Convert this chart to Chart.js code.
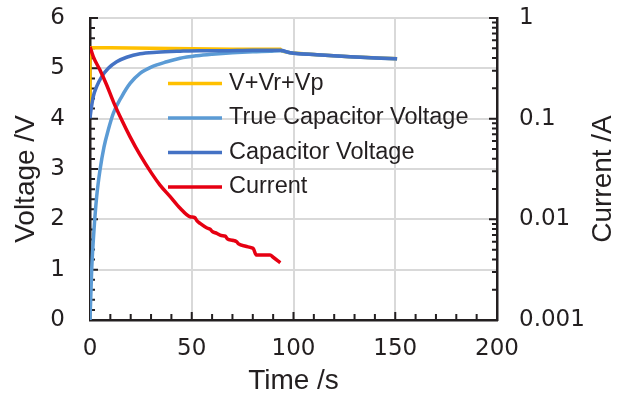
<!DOCTYPE html>
<html><head><meta charset="utf-8">
<script src="https://cdn.jsdelivr.net/npm/chart.js@4.4.1/dist/chart.umd.min.js"></script>
<style>html,body{margin:0;padding:0;background:#fff;}canvas{display:block;}</style>
</head><body>
<canvas id="c" width="632" height="397"></canvas>
<script>
// ---- data ----
const seriesNames = ['V+Vr+Vp', 'True Capacitor Voltage', 'Capacitor Voltage', 'Current'];

const timeSum = [0, 0, 10, 30, 50, 70, 93.5, 94.5, 98.4, 111.5, 127.9, 150.9];
const voltSum = [4.07, 5.41, 5.41, 5.40, 5.39, 5.38, 5.38, 5.34, 5.31, 5.27, 5.23, 5.19];

const timeTrue = [0, 0.82, 1.97, 3.28, 4.92, 6.89, 9.0, 11.5, 15.6, 19.7, 24.6, 30.3, 37.7, 44.3, 52.5, 60, 70, 80, 88.5, 93.5, 98.4, 111.5, 127.9, 150.9];
const voltTrue = [0, 0.99, 1.79, 2.45, 2.98, 3.44, 3.78, 4.11, 4.44, 4.70, 4.90, 5.03, 5.13, 5.20, 5.25, 5.28, 5.31, 5.33, 5.34, 5.35, 5.31, 5.27, 5.23, 5.19];

const timeCap = [0, 0.5, 1.6, 3.3, 5.7, 9, 13.1, 18, 24.6, 32.8, 44.3, 54, 65, 80, 93.5, 98.4, 111.5, 127.9, 150.9];
const voltCap = [4.01, 4.17, 4.44, 4.64, 4.83, 5.00, 5.13, 5.22, 5.29, 5.32, 5.34, 5.35, 5.35, 5.36, 5.36, 5.31, 5.27, 5.23, 5.19];

const timeCur = [0, 1.6, 4.9, 8.2, 11.5, 15.6, 19.7, 24.6, 30.3, 34.4, 39.4, 44.3, 49.2, 51.5, 52.5, 54.1, 57.5, 59, 60, 62.3, 64.5, 66.5, 67.5, 70, 72, 73, 76.5, 79.5, 80.3, 81.7, 88.5, 90, 93.5];
const current  = [0.519, 0.413, 0.304, 0.216, 0.147, 0.097, 0.066, 0.0436, 0.0286, 0.0219, 0.0168, 0.0129, 0.0106, 0.0104, 0.0097, 0.0091, 0.0082, 0.0080, 0.0076, 0.00726, 0.0069, 0.0068, 0.0064, 0.0062, 0.0060, 0.0057, 0.0054, 0.0052, 0.0051, 0.00442, 0.00442, 0.0042, 0.0037];

const timeTicks = [0, 50, 100, 150, 200];
const voltTicks = [0, 1, 2, 3, 4, 5, 6];
const currentTicks = [0.001, 0.01, 0.1, 1];
const currentTickLabels = ['0.001', '0.01', '0.1', '1'];
const timeTitle = 'Time /s';
const voltTitle = 'Voltage /V';
const currentTitle = 'Current /A';

// ---- styles ----
const textColor = '#231f20';
const axisColor = '#231f20';
const gridColor = '#d9d9d9';
const colors = ['#ffc000', '#5b9bd5', '#4472c4', '#e60012'];
const tickFont = { family: '"DejaVu Sans", sans-serif', size: 23 };
const titleFont = { family: '"Liberation Sans", Arial, sans-serif', size: 28, lineHeight: 1 };

const pts = (xs, ys) => xs.map((t, i) => ({ x: t, y: ys[i] }));
const noVPad = s => { s.paddingTop = 0; s.paddingBottom = 0; };

const tickMarks = {
  id: 'tickMarks',
  beforeDatasetsDraw(chart) {
    const { ctx, chartArea: a, scales } = chart;
    ctx.save();
    ctx.strokeStyle = axisColor;
    ctx.lineWidth = 2;
    ctx.beginPath();
    for (let i = 0; i <= 30; i++) {
      const p = scales.y.getPixelForValue(i / 5);
      const len = i % 5 === 0 ? 8 : 5;
      ctx.moveTo(a.left, p); ctx.lineTo(a.left + len, p);
    }
    for (let i = 0; i <= 20; i++) {
      const p = scales.x.getPixelForValue(i * 10);
      const len = i % 5 === 0 ? 8 : 6;
      ctx.moveTo(p, a.bottom); ctx.lineTo(p, a.bottom - len);
    }
    for (let d = -3; d <= 0; d++) {
      for (let m = 1; m <= 9; m++) {
        const v = m * Math.pow(10, d);
        if (v > 1.0001) break;
        const p = scales.y1.getPixelForValue(v);
        const len = m === 1 ? 8 : 5;
        ctx.moveTo(a.right, p); ctx.lineTo(a.right - len, p);
      }
    }
    ctx.stroke();
    ctx.restore();
  }
};

// vertical axis titles, both reading upwards as in the reference
const verticalTitles = {
  id: 'verticalTitles',
  afterDraw(chart) {
    const { ctx, chartArea: a } = chart;
    const cy = (a.top + a.bottom) / 2 + 10;
    [[voltTitle, 26.5], [currentTitle, 603]].forEach(([txt, cx]) => {
      ctx.save();
      ctx.translate(cx, cy);
      ctx.rotate(-Math.PI / 2);
      ctx.font = '28px "Liberation Sans", Arial, sans-serif';
      ctx.fillStyle = textColor;
      ctx.textAlign = 'center';
      ctx.textBaseline = 'middle';
      ctx.fillText(txt, 0, 0);
      ctx.restore();
    });
  }
};

const legendInside = {
  id: 'legendInside',
  afterDatasetsDraw(chart) {
    const ctx = chart.ctx;
    ctx.save();
    ctx.font = '23.5px "Liberation Sans", Arial, sans-serif';
    ctx.textBaseline = 'middle';
    ctx.textAlign = 'left';
    chart.data.datasets.forEach((ds, i) => {
      const yy = 83.5 + i * 34.5;
      ctx.strokeStyle = ds.borderColor;
      ctx.lineWidth = 3.5;
      ctx.beginPath(); ctx.moveTo(168, yy); ctx.lineTo(222, yy); ctx.stroke();
      ctx.fillStyle = textColor;
      ctx.fillText(ds.label, 229, yy);
    });
    ctx.restore();
  }
};

new Chart(document.getElementById('c'), {
  type: 'line',
  data: {
    datasets: [
      { label: seriesNames[0], data: pts(timeSum, voltSum), borderColor: colors[0], yAxisID: 'y', tension: 0, order: 3 },
      { label: seriesNames[1], data: pts(timeTrue, voltTrue), borderColor: colors[1], yAxisID: 'y', cubicInterpolationMode: 'monotone', order: 2 },
      { label: seriesNames[2], data: pts(timeCap, voltCap), borderColor: colors[2], yAxisID: 'y', cubicInterpolationMode: 'monotone', order: 1 },
      { label: seriesNames[3], data: pts(timeCur, current), borderColor: colors[3], yAxisID: 'y1', cubicInterpolationMode: 'monotone', order: 0 }
    ]
  },
  options: {
    responsive: false,
    animation: false,
    devicePixelRatio: 1,
    layout: { padding: { top: 18, left: 0, right: 0, bottom: 0 } },
    plugins: { legend: { display: false }, tooltip: { enabled: false } },
    elements: { point: { radius: 0 }, line: { borderWidth: 3.5, fill: false } },
    scales: {
      x: {
        type: 'linear', position: 'bottom', min: 0, max: 200,
        afterBuildTicks: s => { s.ticks = timeTicks.map(v => ({ value: v })); },
        ticks: { color: textColor, font: tickFont, padding: 15, maxRotation: 0, autoSkip: false },
        grid: { color: gridColor, lineWidth: 2, drawTicks: false },
        border: { display: true, color: axisColor, width: 2.5 },
        title: { display: true, text: timeTitle, color: textColor, font: titleFont, padding: { top: 0, bottom: 2 } },
        afterFit: s => { s.height = 77; }
      },
      y: {
        type: 'linear', position: 'left', min: 0, max: 6,
        afterBuildTicks: s => { s.ticks = voltTicks.map(v => ({ value: v })); },
        ticks: { color: textColor, font: tickFont, padding: 25 },
        grid: { color: gridColor, lineWidth: 2, drawTicks: false },
        border: { display: true, color: axisColor, width: 2.5 },
        afterFit: s => { s.width = 90; noVPad(s); }
      },
      y1: {
        type: 'logarithmic', position: 'right', min: 0.001, max: 1,
        afterBuildTicks: s => { s.ticks = currentTicks.map(v => ({ value: v })); },
        ticks: { color: textColor, font: tickFont, padding: 22, callback: (v, i) => currentTickLabels[i] },
        grid: { drawOnChartArea: false, drawTicks: false },
        border: { display: true, color: axisColor, width: 2.5 },
        afterFit: s => { s.width = 135; noVPad(s); }
      }
    }
  },
  plugins: [tickMarks, legendInside, verticalTitles]
});
</script>
</body></html>
